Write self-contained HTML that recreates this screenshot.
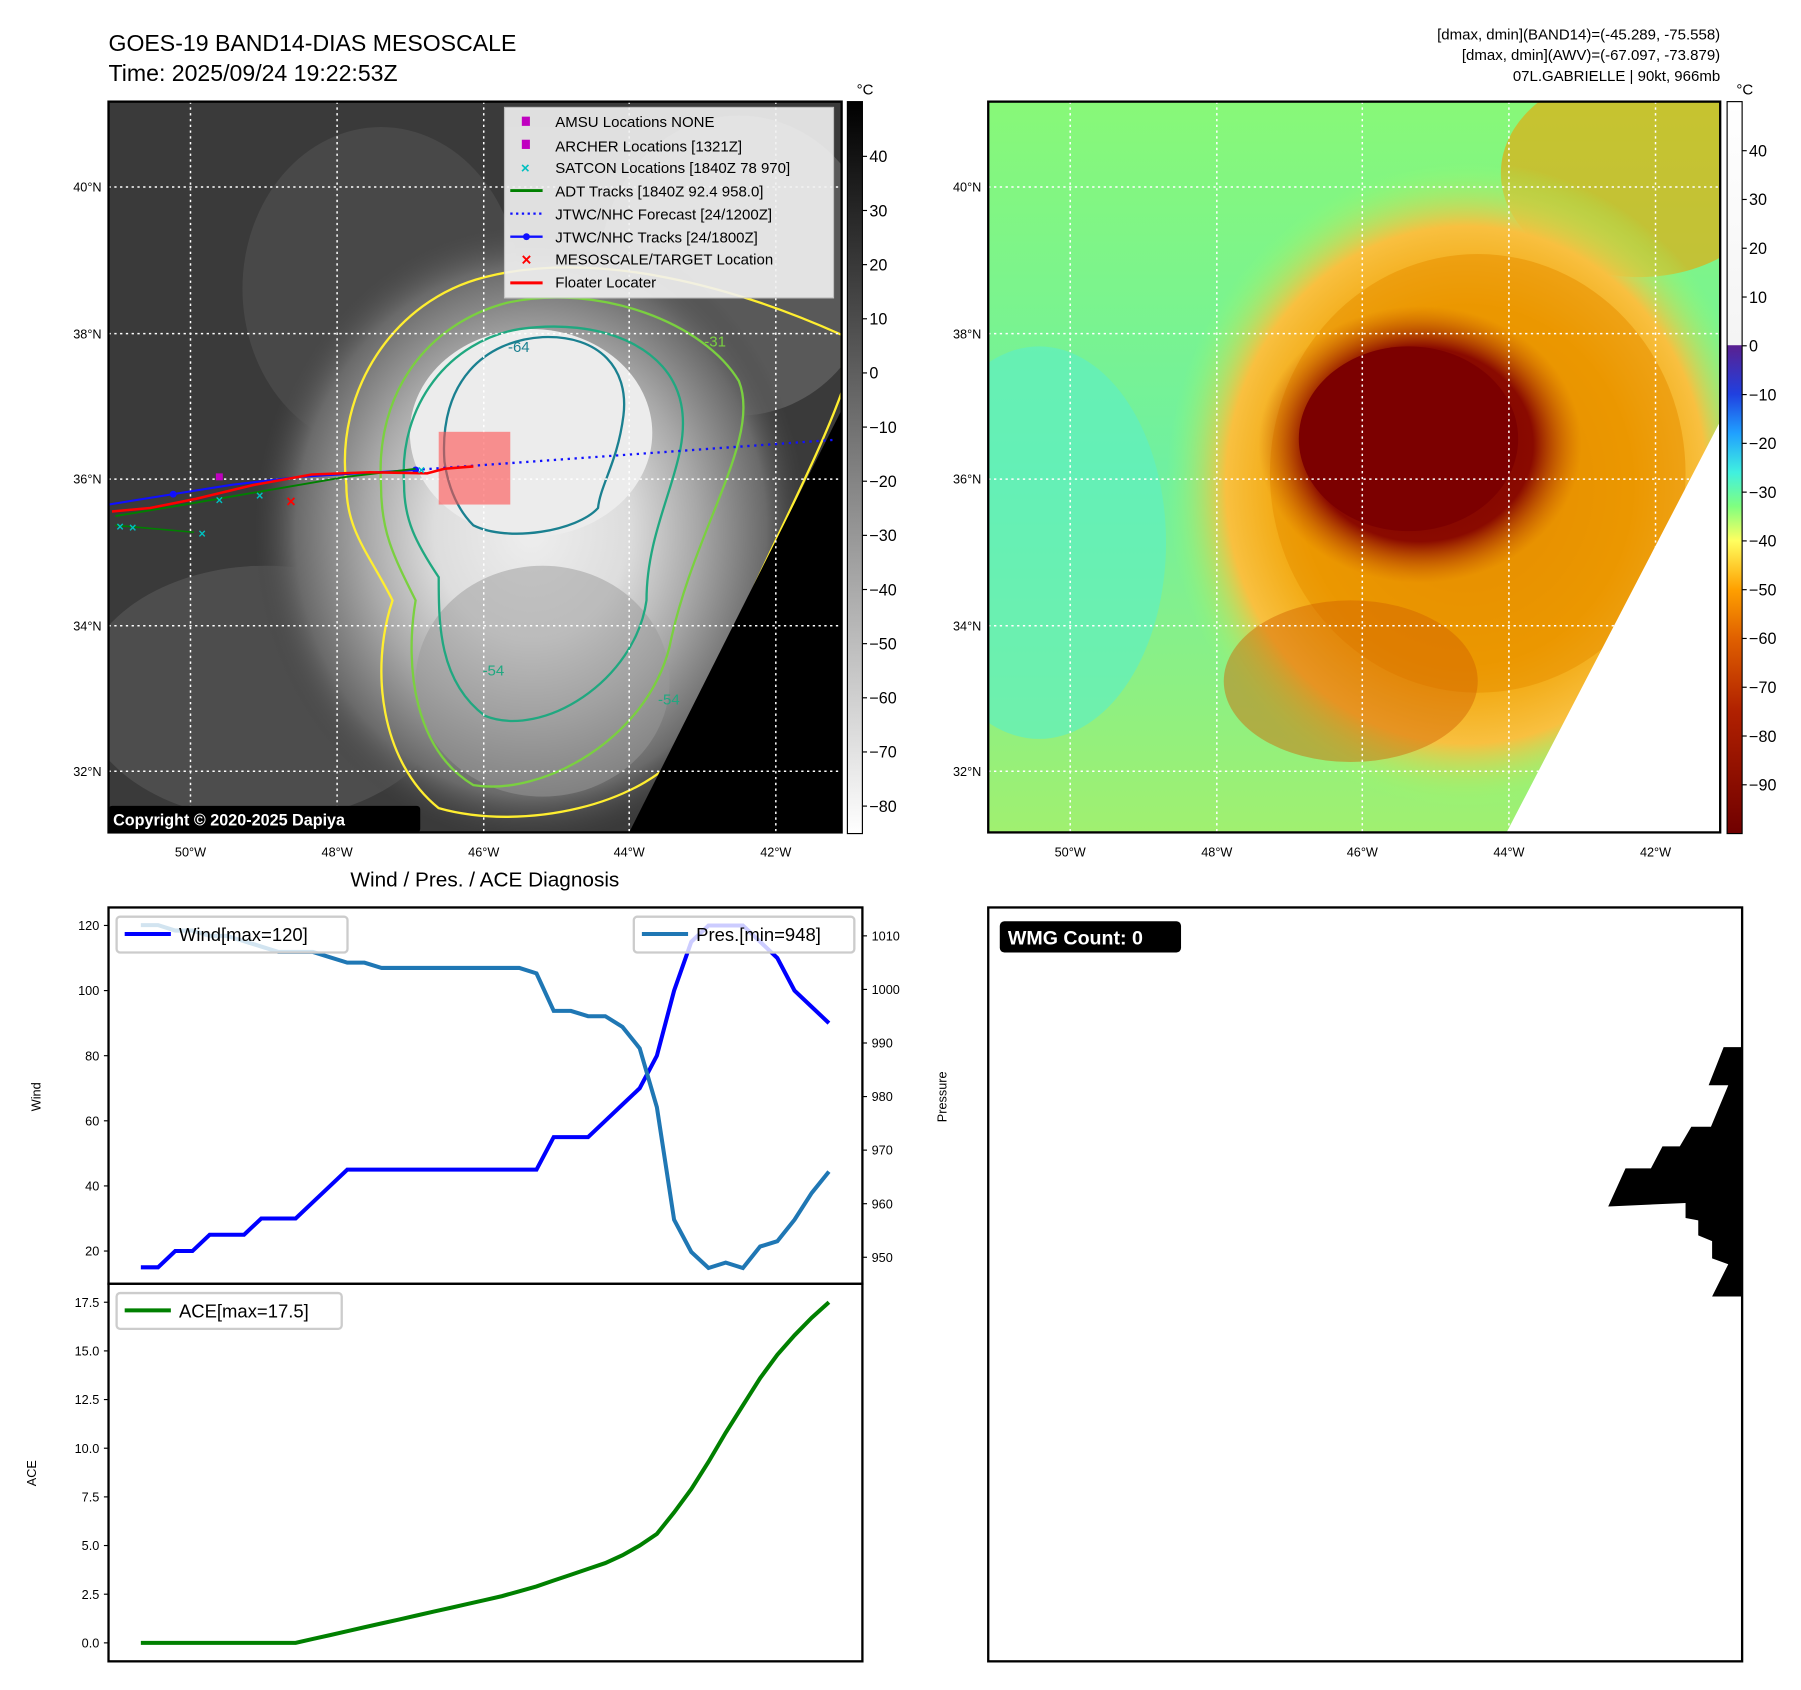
<!DOCTYPE html>
<html><head><meta charset="utf-8"><title>GOES-19 BAND14 Mesoscale</title>
<style>html,body{margin:0;padding:0;background:#fff}svg{display:block;font-family:"Liberation Sans","DejaVu Sans",sans-serif}</style></head>
<body>
<svg id="fig" xmlns="http://www.w3.org/2000/svg" width="1801" height="1690" viewBox="0 0 1560 1463.8">
<defs>
<radialGradient id="cloudL" cx="0.5" cy="0.5" r="0.5"><stop offset="0" stop-color="#eeeeee"/><stop offset="0.35" stop-color="#dddddd"/><stop offset="0.6" stop-color="#a8a8a8"/><stop offset="0.85" stop-color="#6a6a6a"/><stop offset="1" stop-color="#444" stop-opacity="0"/></radialGradient>
<radialGradient id="cloudR1" cx="0.5" cy="0.5" r="0.5"><stop offset="0" stop-color="#e08800"/><stop offset="0.55" stop-color="#f0a000"/><stop offset="0.8" stop-color="#f8c040"/><stop offset="1" stop-color="#90ff70" stop-opacity="0"/></radialGradient>
<radialGradient id="coreR" cx="0.5" cy="0.5" r="0.5"><stop offset="0" stop-color="#7a0000"/><stop offset="0.7" stop-color="#8a0a00"/><stop offset="1" stop-color="#c05000" stop-opacity="0"/></radialGradient>
<linearGradient id="bgR" x1="0" y1="0" x2="0" y2="1"><stop offset="0" stop-color="#88f878"/><stop offset="0.5" stop-color="#70f0a0"/><stop offset="1" stop-color="#a0f070"/></linearGradient>
<linearGradient id="cbGray" x1="0" y1="0" x2="0" y2="1"><stop offset="0" stop-color="#000"/><stop offset="1" stop-color="#fff"/></linearGradient>
<linearGradient id="cbJet" x1="0" y1="0" x2="0" y2="1">
<stop offset="0" stop-color="#5a2090"/><stop offset="0.1" stop-color="#2040e0"/><stop offset="0.18" stop-color="#20a0ff"/><stop offset="0.26" stop-color="#40f0e0"/><stop offset="0.33" stop-color="#80ff80"/><stop offset="0.4" stop-color="#ffff60"/><stop offset="0.5" stop-color="#ffa000"/><stop offset="0.6" stop-color="#e06000"/><stop offset="0.75" stop-color="#b02000"/><stop offset="1" stop-color="#700000"/></linearGradient>
<linearGradient id="cbWhite" x1="0" y1="0" x2="0" y2="1"><stop offset="0" stop-color="#fff"/><stop offset="1" stop-color="#f4f4f4"/></linearGradient>
<clipPath id="clipL"><rect x="94" y="88" width="635" height="633"/></clipPath>
<clipPath id="clipR"><rect x="856" y="88" width="634" height="633"/></clipPath>
</defs>

<text x="94" y="44" font-size="20">GOES-19 BAND14-DIAS MESOSCALE</text>
<text x="94" y="70" font-size="20">Time: 2025/09/24 19:22:53Z</text>
<g font-size="13" text-anchor="end">
<text x="1490" y="34">[dmax, dmin](BAND14)=(-45.289, -75.558)</text>
<text x="1490" y="52">[dmax, dmin](AWV)=(-67.097, -73.879)</text>
<text x="1490" y="70">07L.GABRIELLE | 90kt, 966mb</text>
</g>

<!-- LEFT MAP -->
<g id="leftMap" clip-path="url(#clipL)">
<rect x="94" y="88" width="635" height="633" fill="#3a3a3a"/>
<ellipse cx="330" cy="250" rx="120" ry="140" fill="#555" opacity="0.5"/>
<ellipse cx="230" cy="600" rx="160" ry="110" fill="#666" opacity="0.45"/>
<ellipse cx="640" cy="230" rx="120" ry="130" fill="#777" opacity="0.5"/>
<ellipse cx="460" cy="460" rx="240" ry="270" fill="url(#cloudL)"/>
<ellipse cx="460" cy="375" rx="105" ry="90" fill="#ececec"/>
<ellipse cx="470" cy="590" rx="110" ry="100" fill="#999" opacity="0.5"/>
<g fill="none" stroke-width="2">
<path d="M300,420 C290,340 340,260 420,240 C520,215 640,250 729,290 L729,340 C700,420 640,520 600,640 C560,700 450,720 380,700 C330,660 320,580 340,520 C320,480 300,460 300,420Z" stroke="#ffee30"/>
<path d="M330,420 C325,340 370,280 440,262 C520,245 610,280 640,330 C660,380 600,460 580,560 C560,640 470,690 410,680 C360,650 350,580 360,520 C340,480 330,460 330,420Z" stroke="#7ad040"/>
<path d="M350,420 C345,350 390,295 450,285 C520,275 580,300 590,350 C600,400 560,450 560,520 C550,590 470,640 420,620 C380,590 380,540 380,500 C360,470 350,450 350,420Z" stroke="#20a880"/>
<path d="M385,400 C380,330 420,295 470,292 C520,290 545,320 540,360 C535,400 520,420 518,440 C500,460 440,470 410,455 C395,440 388,420 385,400Z" stroke="#1a8090"/>
</g>
<text x="440" y="305" font-size="13" fill="#1a8090">-64</text>
<text x="418" y="585" font-size="13" fill="#20a880">-54</text>
<text x="570" y="610" font-size="13" fill="#20a880">-54</text>
<text x="610" y="300" font-size="13" fill="#7ad040">-31</text>
<polygon points="729,355 545,721 729,721" fill="#000"/>
<g stroke="#fff" stroke-width="1.3" stroke-dasharray="2,3">
<line x1="94" x2="729" y1="162" y2="162"/><line x1="94" x2="729" y1="289" y2="289"/><line x1="94" x2="729" y1="415" y2="415"/><line x1="94" x2="729" y1="542" y2="542"/><line x1="94" x2="729" y1="668" y2="668"/>
<line y1="88" y2="721" x1="165" x2="165"/><line y1="88" y2="721" x1="292" x2="292"/><line y1="88" y2="721" x1="419" x2="419"/><line y1="88" y2="721" x1="545" x2="545"/><line y1="88" y2="721" x1="672" x2="672"/>
</g>
<rect x="380" y="374" width="62" height="63" fill="#ff5050" opacity="0.6"/>
<polyline points="360,407 722,381" fill="none" stroke="#1010ff" stroke-width="2" stroke-dasharray="2,4"/>
<polyline points="94,437 150,428 200,420 260,413 310,410 360,407" fill="none" stroke="#1010ff" stroke-width="1.8"/>
<circle cx="150" cy="428" r="3" fill="#1010ff"/><circle cx="360" cy="407" r="3" fill="#1010ff"/>
<polyline points="100,447 160,437 230,425 300,413 360,406" fill="none" stroke="#008000" stroke-width="1.6"/>
<polyline points="100,455 168,461" fill="none" stroke="#008000" stroke-width="1.4"/>
<polyline points="97,443 130,440 170,432 220,420 270,411 320,409 370,410 385,406 410,404" fill="none" stroke="#ff0000" stroke-width="2.2"/>
<text x="252" y="439" font-size="14" fill="#ff0000" text-anchor="middle" font-weight="bold">×</text>
<g fill="#00c0c0" font-size="11" text-anchor="middle" font-weight="bold"><text x="104" y="460">×</text><text x="115" y="461">×</text><text x="175" y="466">×</text><text x="190" y="437">×</text><text x="225" y="433">×</text><text x="365" y="411">×</text></g>
<rect x="187" y="410" width="6" height="6" fill="#c000c0"/>
<g>
<rect x="437" y="93" width="285" height="165" fill="#f2f2f2" opacity="0.9" stroke="#ccc"/>
<g font-size="13" fill="#000">
<rect x="452" y="101" width="7" height="8" fill="#c000c0"/><text x="481" y="110">AMSU Locations NONE</text>
<rect x="452" y="121" width="7" height="8" fill="#c000c0"/><text x="481" y="131">ARCHER Locations [1321Z]</text>
<text x="455" y="150" fill="#00c0c0" text-anchor="middle" font-weight="bold">×</text><text x="481" y="150">SATCON Locations [1840Z 78 970]</text>
<line x1="442" x2="470" y1="165" y2="165" stroke="#008000" stroke-width="2.5"/><text x="481" y="170">ADT Tracks [1840Z 92.4 958.0]</text>
<line x1="442" x2="470" y1="185" y2="185" stroke="#1010ff" stroke-width="2" stroke-dasharray="2,3"/><text x="481" y="190">JTWC/NHC Forecast [24/1200Z]</text>
<line x1="442" x2="470" y1="205" y2="205" stroke="#1010ff" stroke-width="2"/><circle cx="456" cy="205" r="3" fill="#1010ff"/><text x="481" y="210">JTWC/NHC Tracks [24/1800Z]</text>
<text x="456" y="230" fill="#ff0000" text-anchor="middle" font-weight="bold" font-size="15">×</text><text x="481" y="229">MESOSCALE/TARGET Location</text>
<line x1="442" x2="470" y1="245" y2="245" stroke="#ff0000" stroke-width="2.5"/><text x="481" y="249">Floater Locater</text>
</g></g>
<rect x="94" y="698" width="270" height="23" fill="#000" rx="3"/>
<text x="98" y="715" font-size="14" fill="#fff" font-weight="bold">Copyright © 2020-2025 Dapiya</text>
</g>
<rect x="94" y="88" width="635" height="633" fill="none" stroke="#000" stroke-width="2"/>
<g font-size="11">
<text x="88" y="166" text-anchor="end">40°N</text><text x="88" y="293" text-anchor="end">38°N</text><text x="88" y="419" text-anchor="end">36°N</text><text x="88" y="546" text-anchor="end">34°N</text><text x="88" y="672" text-anchor="end">32°N</text>
<text x="165" y="742" text-anchor="middle">50°W</text><text x="292" y="742" text-anchor="middle">48°W</text><text x="419" y="742" text-anchor="middle">46°W</text><text x="545" y="742" text-anchor="middle">44°W</text><text x="672" y="742" text-anchor="middle">42°W</text>
</g>
<rect x="734" y="88" width="13" height="634" fill="url(#cbGray)" stroke="#000"/>
<text x="742" y="82" font-size="13">°C</text>
<g id="cbL" font-size="14"></g>

<!-- RIGHT MAP -->
<g clip-path="url(#clipR)">
<rect x="856" y="88" width="634" height="633" fill="url(#bgR)"/>
<ellipse cx="900" cy="470" rx="110" ry="170" fill="#60f0c0" opacity="0.7"/>
<ellipse cx="1420" cy="150" rx="120" ry="90" fill="#f0a000" opacity="0.6"/>
<ellipse cx="1270" cy="420" rx="260" ry="280" fill="url(#cloudR1)"/>
<ellipse cx="1280" cy="410" rx="180" ry="190" fill="#e89000" opacity="0.55"/>
<ellipse cx="1230" cy="385" rx="140" ry="120" fill="url(#coreR)"/>
<ellipse cx="1220" cy="380" rx="95" ry="80" fill="#7c0000"/>
<ellipse cx="1170" cy="590" rx="110" ry="70" fill="#d06000" opacity="0.45"/>
<polygon points="1490,365 1305,721 1490,721" fill="#fff"/>
<g stroke="#fff" stroke-width="1.3" stroke-dasharray="2,3">
<line x1="856" x2="1490" y1="162" y2="162"/><line x1="856" x2="1490" y1="289" y2="289"/><line x1="856" x2="1490" y1="415" y2="415"/><line x1="856" x2="1490" y1="542" y2="542"/><line x1="856" x2="1490" y1="668" y2="668"/>
<line y1="88" y2="721" x1="927" x2="927"/><line y1="88" y2="721" x1="1054" x2="1054"/><line y1="88" y2="721" x1="1180" x2="1180"/><line y1="88" y2="721" x1="1307" x2="1307"/><line y1="88" y2="721" x1="1434" x2="1434"/>
</g></g>
<rect x="856" y="88" width="634" height="633" fill="none" stroke="#000" stroke-width="2"/>
<g font-size="11">
<text x="850" y="166" text-anchor="end">40°N</text><text x="850" y="293" text-anchor="end">38°N</text><text x="850" y="419" text-anchor="end">36°N</text><text x="850" y="546" text-anchor="end">34°N</text><text x="850" y="672" text-anchor="end">32°N</text>
<text x="927" y="742" text-anchor="middle">50°W</text><text x="1054" y="742" text-anchor="middle">48°W</text><text x="1180" y="742" text-anchor="middle">46°W</text><text x="1307" y="742" text-anchor="middle">44°W</text><text x="1434" y="742" text-anchor="middle">42°W</text>
</g>
<rect x="1496" y="88" width="13" height="211" fill="url(#cbWhite)"/>
<rect x="1496" y="299" width="13" height="423" fill="url(#cbJet)"/>
<rect x="1496" y="88" width="13" height="634" fill="none" stroke="#000"/>
<text x="1504" y="82" font-size="13">°C</text>
<g id="cbR" font-size="14"></g>

<text x="420" y="768" font-size="18" text-anchor="middle">Wind / Pres. / ACE Diagnosis</text>
<g id="chart"></g>

<rect x="856" y="786" width="653" height="653" fill="#fff" stroke="#000" stroke-width="2"/>
<rect x="866" y="798" width="157" height="27" rx="4" fill="#000"/>
<text x="873" y="818" font-size="17" font-weight="bold" fill="#fff">WMG Count: 0</text>
<polygon fill="#000" points="1493,907 1509,907 1509,1123 1483,1123 1497,1095 1483,1090 1483,1075 1471,1070 1471,1057 1460,1055 1460,1042 1393,1045 1408,1012 1430,1012 1440,993 1455,993 1465,976 1482,976 1497,940 1480,940"/>

<script>
var NS='http://www.w3.org/2000/svg';
function mk(tag,attrs,parent,txt){var e=document.createElementNS(NS,tag);for(var k in attrs)e.setAttribute(k,attrs[k]);if(txt!==undefined)e.textContent=txt;parent.appendChild(e);return e;}
var cbLeftTicks=[40,30,20,10,0,-10,-20,-30,-40,-50,-60,-70,-80];
var cbRightTicks=[40,30,20,10,0,-10,-20,-30,-40,-50,-60,-70,-80,-90];
var gL=document.getElementById('cbL'),gR=document.getElementById('cbR');
function cbLy(v){return 323-v*4.69;}
function cbRy(v){return 299.5-v*4.225;}
cbLeftTicks.forEach(function(v){var y=cbLy(v);mk('line',{x1:747,x2:751,y1:y,y2:y,stroke:'#000'},gL);
 var t=mk('text',{x:753,y:y+5},gL,v<0?'\u2212'+(-v):''+v);
 
 });
cbRightTicks.forEach(function(v){var y=cbRy(v);mk('line',{x1:1509,x2:1513,y1:y,y2:y,stroke:'#000'},gR);
 var t=mk('text',{x:1515,y:y+5},gR,v<0?'\u2212'+(-v):''+v);
 
 });

var windValues=[15,15,20,20,25,25,25,30,30,30,35,40,45,45,45,45,45,45,45,45,45,45,45,45,55,55,55,60,65,70,80,100,115,120,120,120,115,110,100,95,90];
var presValues=[1012,1012,1011,1011,1010,1010,1009,1008,1007,1007,1007,1006,1005,1005,1004,1004,1004,1004,1004,1004,1004,1004,1004,1003,996,996,995,995,993,989,978,957,951,948,949,948,952,953,957,962,966];
var aceValues=[0,0,0,0,0,0,0,0,0,0,0,0.2,0.4,0.6,0.8,1.0,1.2,1.4,1.6,1.8,2.0,2.2,2.4,2.65,2.9,3.2,3.5,3.8,4.1,4.5,5.0,5.6,6.7,7.9,9.3,10.8,12.2,13.6,14.8,15.8,16.7,17.5].slice(1);
var windTicks=[20,40,60,80,100,120];
var presTicks=[950,960,970,980,990,1000,1010];
var aceTicks=[0.0,2.5,5.0,7.5,10.0,12.5,15.0,17.5];

var C=document.getElementById('chart');
function xS(i){return 122+i*(596/(windValues.length-1));}
function yW(v){return 1140-v*2.82;}
function yP(v){return 1089-(v-950)*4.64;}
function yA(v){return 1423-v*16.86;}
function pts(arr,yf){return arr.map(function(v,i){return xS(i).toFixed(1)+','+yf(v).toFixed(1);}).join(' ');}

var f1=mk('rect',{x:94,y:786,width:653,height:326,fill:'#fff',stroke:'#000','stroke-width':2},C);


var f2=mk('rect',{x:94,y:1112,width:653,height:327,fill:'#fff',stroke:'#000','stroke-width':2},C);


windTicks.forEach(function(v){var y=yW(v);mk('line',{x1:90,x2:94,y1:y,y2:y,stroke:'#000'},C);
 var t=mk('text',{x:86,y:y+4,'font-size':11,'text-anchor':'end'},C,''+v);
 
 });
presTicks.forEach(function(v){var y=yP(v);mk('line',{x1:747,x2:751,y1:y,y2:y,stroke:'#000'},C);
 var t=mk('text',{x:755,y:y+4,'font-size':11},C,''+v);
 
 });
aceTicks.forEach(function(v){var y=yA(v);mk('line',{x1:90,x2:94,y1:y,y2:y,stroke:'#000'},C);
 var t=mk('text',{x:86,y:y+4,'font-size':11,'text-anchor':'end'},C,v.toFixed(1));
 
 });
var yl=mk('text',{x:35,y:950,'font-size':11,'text-anchor':'middle',transform:'rotate(-90 35 950)'},C,'Wind');


var yl2=mk('text',{x:820,y:950,'font-size':11,'text-anchor':'middle',transform:'rotate(-90 820 950)'},C,'Pressure');


var yl3=mk('text',{x:31,y:1276,'font-size':11,'text-anchor':'middle',transform:'rotate(-90 31 1276)'},C,'ACE');



var lw=mk('polyline',{points:pts(windValues,yW),fill:'none',stroke:'#0000ff','stroke-width':3.5},C);


var lp=mk('polyline',{points:pts(presValues,yP),fill:'none',stroke:'#1f77b4','stroke-width':3.5},C);


var la=mk('polyline',{points:pts(aceValues,yA),fill:'none',stroke:'#008000','stroke-width':3.5},C);



var lg1=mk('rect',{x:101,y:794,width:200,height:31,rx:3,fill:'#fff','fill-opacity':0.8,stroke:'#ccc','stroke-width':2},C);


mk('line',{x1:108,x2:148,y1:809,y2:809,stroke:'#0000ff','stroke-width':3.5},C);
mk('text',{x:155,y:815,'font-size':16},C,'Wind[max=120]');
var lg2=mk('rect',{x:549,y:794,width:191,height:31,rx:3,fill:'#fff','fill-opacity':0.8,stroke:'#ccc','stroke-width':2},C);


mk('line',{x1:556,x2:596,y1:809,y2:809,stroke:'#1f77b4','stroke-width':3.5},C);
mk('text',{x:603,y:815,'font-size':16},C,'Pres.[min=948]');
var lg3=mk('rect',{x:101,y:1120,width:195,height:31,rx:3,fill:'#fff','fill-opacity':0.8,stroke:'#ccc','stroke-width':2},C);


mk('line',{x1:108,x2:148,y1:1135,y2:1135,stroke:'#008000','stroke-width':3.5},C);
mk('text',{x:155,y:1141,'font-size':16},C,'ACE[max=17.5]');
</script>
</svg>
</body></html>
